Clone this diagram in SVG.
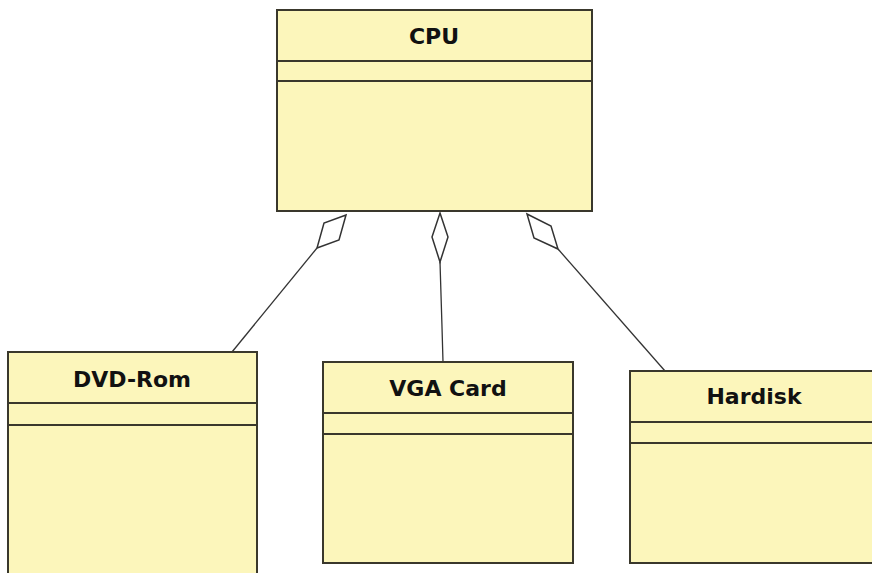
<svg xmlns="http://www.w3.org/2000/svg" width="872" height="573" viewBox="0 0 872 573">
<style>
.box{fill:#fcf6bb;stroke:#3a382c;stroke-width:2}
.div{stroke:#3a382c;stroke-width:2}
.lbl{font-family:"DejaVu Sans",Verdana,sans-serif;font-weight:bold;font-size:22px;fill:#111;text-anchor:middle}
.con{stroke:#333;stroke-width:1.3;fill:none}
.dia{stroke:#333;stroke-width:1.5;fill:#fff}
</style>
<rect width="872" height="573" fill="#fff"/>
<g id="connectors">
<line class="con" x1="317" y1="248" x2="232" y2="352"/>
<polygon class="dia" points="346,215 339,240 317,248 324,223"/>
<polyline class="con" points="440,262 442,327 443,362"/>
<polygon class="dia" points="440,213 448,237 440,262 432,237"/>
<line class="con" x1="558" y1="249" x2="665" y2="371"/>
<polygon class="dia" points="527,214 551,226 558,249 534,238"/>
</g>
<g id="cpu">
<rect class="box" x="277" y="10" width="315" height="201"/>
<line class="div" x1="277" y1="61" x2="592" y2="61"/>
<line class="div" x1="277" y1="81" x2="592" y2="81"/>
<text class="lbl" x="434" y="44">CPU</text>
</g>
<g id="dvdrom">
<rect class="box" x="8" y="352" width="249" height="225"/>
<line class="div" x1="8" y1="403" x2="257" y2="403"/>
<line class="div" x1="8" y1="425" x2="257" y2="425"/>
<text class="lbl" x="132" y="387">DVD-Rom</text>
</g>
<g id="vgacard">
<rect class="box" x="323" y="362" width="250" height="201"/>
<line class="div" x1="323" y1="413" x2="573" y2="413"/>
<line class="div" x1="323" y1="434" x2="573" y2="434"/>
<text class="lbl" x="448" y="396">VGA Card</text>
</g>
<g id="hardisk">
<rect class="box" x="630" y="371" width="248" height="192"/>
<line class="div" x1="630" y1="422" x2="878" y2="422"/>
<line class="div" x1="630" y1="443" x2="878" y2="443"/>
<text class="lbl" x="754" y="404">Hardisk</text>
</g>
</svg>
